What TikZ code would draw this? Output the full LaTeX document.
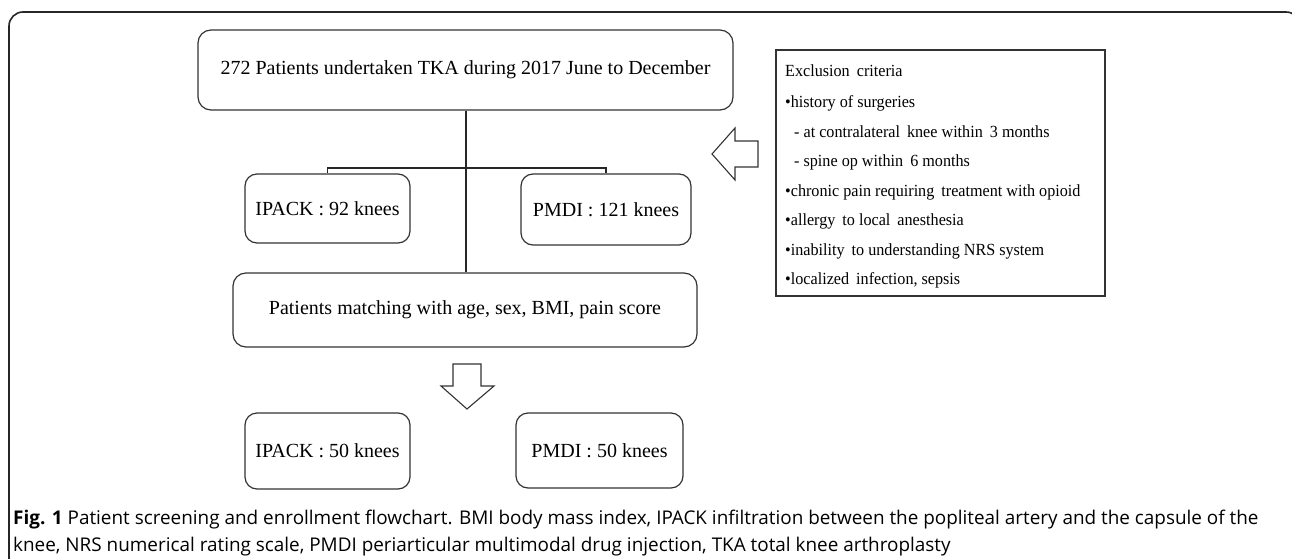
\documentclass[tikz,border=0pt]{standalone}
\usepackage{fontspec}
\setmainfont{Liberation Serif}
\newfontfamily\boxfont{Liberation Serif}
\newfontfamily\exfont[FakeStretch=0.95]{Liberation Serif}
\newfontfamily\capfont{Open Sans}
\begin{document}
\begin{tikzpicture}[x=1pt,y=-1pt,
  rbox/.style={draw=black!80, line width=1.2pt, rounded corners=13pt, inner sep=0pt,
    font=\boxfont\fontsize{20}{24}\selectfont},
  exbox/.style={draw=black!80, line width=1.2pt, inner sep=0pt},
  conn/.style={draw=black!85, line width=1.1pt},
  blockarrow/.style={draw=black!80, line width=1.1pt, line join=miter, fill=white},
  extext/.style={anchor=base west, inner sep=0pt, font=\exfont\fontsize{17}{20}\selectfont},
  captext/.style={anchor=base west, inner sep=0pt, font=\capfont\fontsize{18.9}{22}\selectfont}]
\useasboundingbox (0,0) rectangle (1292,559);
% outer frame
\draw[line width=1.6pt, black!85, rounded corners=14pt] (9,600) -- (9,12) -- (1300,12) -- (1300,600);

% nodes
\node[rbox, minimum width=535pt, minimum height=80pt] (top) at (465.5,70) {272 Patients undertaken TKA during 2017 June to December};
\node[rbox, rounded corners=12pt, minimum width=165pt, minimum height=69pt] (ip1) at (327.5,208.5) {IPACK : 92 knees};
\node[rbox, rounded corners=12pt, minimum width=170pt, minimum height=71pt] (pm1) at (606,209.5) {PMDI : 121 knees};
\node[rbox, minimum width=464pt, minimum height=74pt] (match) at (465,310) {Patients matching with age, sex, BMI, pain score};
\node[rbox, rounded corners=12pt, minimum width=165pt, minimum height=76pt] (ip2) at (327.5,451) {IPACK : 50 knees};
\node[rbox, rounded corners=12pt, minimum width=167pt, minimum height=75pt] (pm2) at (599.5,450.5) {PMDI : 50 knees};

% exclusion box
\node[exbox, minimum width=329pt, minimum height=246pt] (excl) at (940.5,173) {};
\node[extext] (e1) at (785,77) {Exclusion\hspace{3pt} criteria};
\node[extext] (e2) at (785,107) {•history of surgeries};
\node[extext] (e3) at (785,137) {\hspace{9pt}- at contralateral\hspace{3pt} knee within\hspace{3pt} 3 months};
\node[extext] (e4) at (785,166) {\hspace{9pt}- spine op within\hspace{3pt} 6 months};
\node[extext] (e5) at (785,196) {•chronic pain requiring\hspace{3pt} treatment with opioid};
\node[extext] (e6) at (785,225) {•allergy\hspace{3pt} to local\hspace{3pt} anesthesia};
\node[extext] (e7) at (785,255) {•inability\hspace{3pt} to understanding NRS system};
\node[extext] (e8) at (785,284) {•localized\hspace{3pt} infection, sepsis};

% connectors
\coordinate (br) at (466,168);
\draw[conn] (top.south -| br) -- (match.north -| br);
\draw[conn] (ip1.north) -- (ip1.north |- br) -- (pm1.north |- br) -- (pm1.north);

% block arrows
\coordinate (la1) at (758,141);
\coordinate (la2) at (735,141);
\coordinate (la3) at (735,128);
\coordinate (la4) at (712,154);
\coordinate (la5) at (735,180);
\coordinate (la6) at (735,167);
\coordinate (la7) at (758,167);
\draw[blockarrow] (la1) -- (la2) -- (la3) -- (la4) -- (la5) -- (la6) -- (la7) -- cycle;

\coordinate (da1) at (453,364);
\coordinate (da2) at (481,364);
\coordinate (da3) at (481,386);
\coordinate (da4) at (494,386);
\coordinate (da5) at (467,409);
\coordinate (da6) at (441,386);
\coordinate (da7) at (453,386);
\draw[blockarrow] (da1) -- (da2) -- (da3) -- (da4) -- (da5) -- (da6) -- (da7) -- cycle;

% caption
\node[captext] (cap1) at (13,524) {\textbf{Fig. 1} Patient screening and enrollment flowchart. BMI body mass index, IPACK infiltration between the popliteal artery and the capsule of the};
\node[captext] (cap2) at (13,551) {knee, NRS numerical rating scale, PMDI periarticular multimodal drug injection, TKA total knee arthroplasty};
\end{tikzpicture}
\end{document}
